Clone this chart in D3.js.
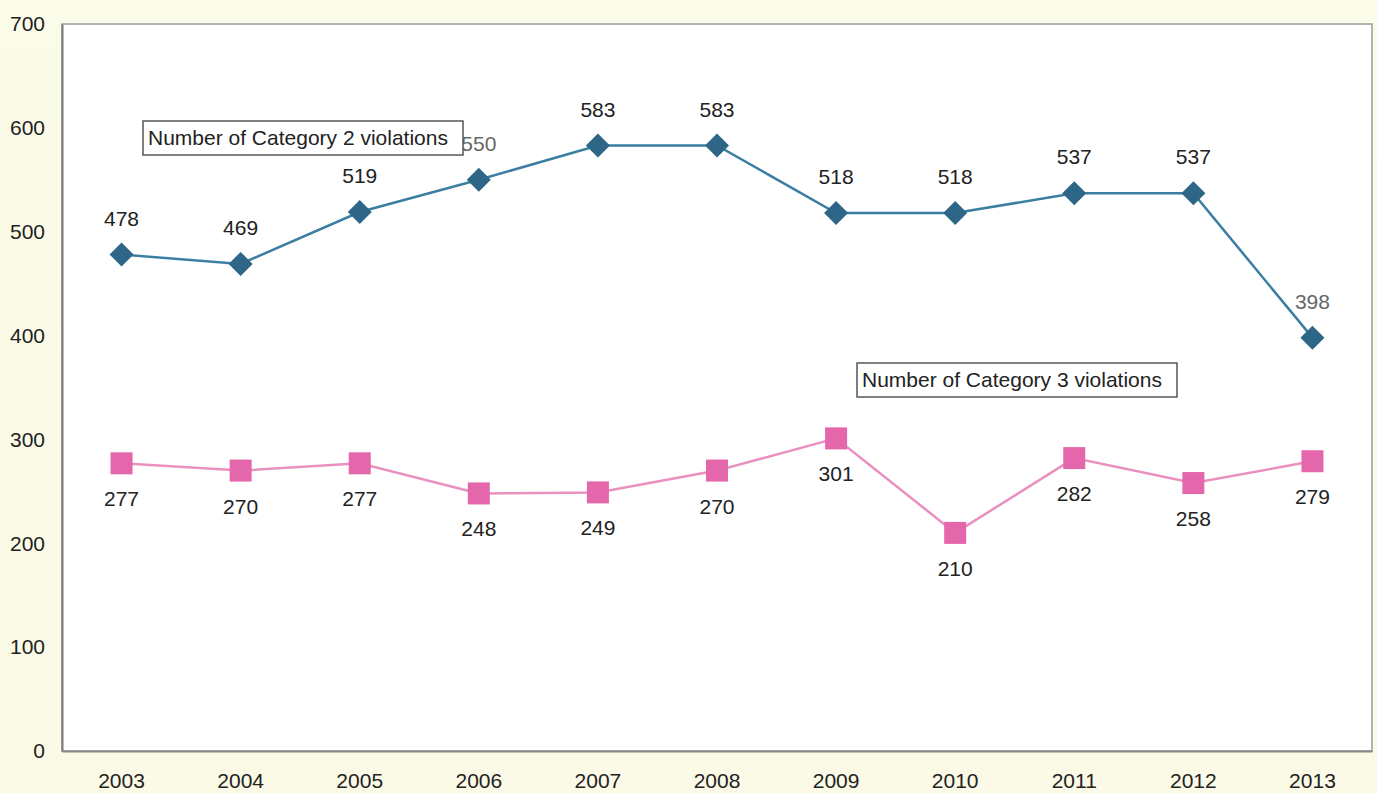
<!DOCTYPE html>
<html>
<head>
<meta charset="utf-8">
<script src="https://cdn.jsdelivr.net/npm/d3@7"></script>
<style>
  html, body { margin: 0; padding: 0; }
  body { width: 1377px; height: 793px; overflow: hidden; }
  svg { display: block; font-family: Arial, "Liberation Sans", sans-serif; }
</style>
</head>
<body>
<svg id="chart" width="1377" height="793"></svg>
<script>
// Violations per year, 2003–2013
const years = ["2003","2004","2005","2006","2007","2008","2009","2010","2011","2012","2013"];
const category2 = [478, 469, 519, 550, 583, 583, 518, 518, 537, 537, 398];
const category3 = [277, 270, 277, 248, 249, 270, 301, 210, 282, 258, 279];
const yTicks = [0, 100, 200, 300, 400, 500, 600, 700];
const seriesNames = ["Number of Category 2 violations", "Number of Category 3 violations"];
// labels drawn in a lighter grey (partly behind the series caption / near the edge)
const greyLabels2 = ["2006", "2013"];

const W = 1377, H = 793;
const plot = { left: 62, top: 24, right: 1372, bottom: 751 };
const FS = 21;

const svg = d3.select("#chart");

// pale yellow page background
const defs = svg.append("defs");
const bg = defs.append("linearGradient").attr("id", "bg").attr("x1", 0).attr("y1", 0).attr("x2", 0).attr("y2", 1);
bg.append("stop").attr("offset", "0%").attr("stop-color", "#fbfbe9");
bg.append("stop").attr("offset", "100%").attr("stop-color", "#fafae6");
svg.append("rect").attr("width", W).attr("height", H).attr("fill", "url(#bg)");

const x = d3.scaleBand().domain(years).range([plot.left, plot.right]);
const y = d3.scaleLinear().domain([0, 700]).range([plot.bottom, plot.top]);
const cx = d => x(d) + x.bandwidth() / 2;

// plot area
svg.append("rect")
  .attr("x", plot.left).attr("y", plot.top)
  .attr("width", plot.right - plot.left).attr("height", plot.bottom - plot.top)
  .attr("fill", "#ffffff").attr("stroke", "#9a9a9a").attr("stroke-width", 1.5);

// axes
const yAxis = d3.axisLeft(y).tickValues(yTicks).tickSize(0).tickPadding(17);
const yG = svg.append("g").attr("transform", `translate(${plot.left},0)`).call(yAxis);
yG.select(".domain").attr("stroke", "#7a7a7a").attr("stroke-width", 2);
yG.selectAll("text").attr("font-size", FS).attr("fill", "#222");

const xAxis = d3.axisBottom(x).tickSize(0).tickPadding(22);
const xG = svg.append("g").attr("transform", `translate(0,${plot.bottom})`).call(xAxis);
xG.select(".domain").attr("stroke", "#8a8a8a").attr("stroke-width", 2);
xG.selectAll("text").attr("font-size", FS).attr("fill", "#222");

const line = d3.line().x((d, i) => cx(years[i])).y(d => y(d));

// Category 3 series (pink squares)
svg.append("path").datum(category3)
  .attr("d", line).attr("fill", "none")
  .attr("stroke", "#ea90c0").attr("stroke-width", 2.5);
svg.append("g").selectAll("rect").data(category3).join("rect")
  .attr("x", (d, i) => cx(years[i]) - 11)
  .attr("y", d => y(d) - 11)
  .attr("width", 22).attr("height", 22)
  .attr("fill", "#e466ab");
svg.append("g").selectAll("text").data(category3).join("text")
  .attr("x", (d, i) => cx(years[i]))
  .attr("y", d => y(d) + 43)
  .attr("text-anchor", "middle")
  .attr("font-size", FS).attr("fill", "#222")
  .text(d => d);

// Category 2 series (blue diamonds)
svg.append("path").datum(category2)
  .attr("d", line).attr("fill", "none")
  .attr("stroke", "#3b7ea2").attr("stroke-width", 2.5);
svg.append("g").selectAll("path").data(category2).join("path")
  .attr("transform", (d, i) => `translate(${cx(years[i])},${y(d)})`)
  .attr("d", "M0,-12L12,0L0,12L-12,0Z")
  .attr("fill", "#2e6688");
svg.append("g").selectAll("text").data(category2).join("text")
  .attr("x", (d, i) => cx(years[i]))
  .attr("y", d => y(d) - 29)
  .attr("text-anchor", "middle")
  .attr("font-size", FS)
  .attr("fill", (d, i) => greyLabels2.includes(years[i]) ? "#666" : "#222")
  .text(d => d);

// series captions in framed boxes
function caption(text, xLeft, yTop) {
  const g = svg.append("g");
  g.append("rect").attr("x", xLeft).attr("y", yTop)
    .attr("width", 320).attr("height", 34)
    .attr("fill", "#ffffff").attr("stroke", "#555").attr("stroke-width", 1.5);
  g.append("text").attr("x", xLeft + 5).attr("y", yTop + 24)
    .attr("font-size", FS).attr("fill", "#222").text(text);
}
caption(seriesNames[0], 143, 121);
caption(seriesNames[1], 857, 363);
</script>
</body>
</html>
